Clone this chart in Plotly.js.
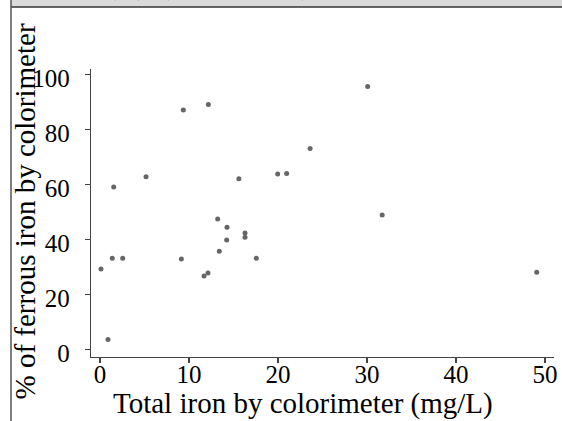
<!DOCTYPE html>
<html>
<head>
<meta charset="utf-8">
<script src="https://cdn.plot.ly/plotly-3.0.1.min.js"></script>
<style>html,body{margin:0;padding:0;background:#fff;}#chart{width:562px;height:421px;}</style>
</head>
<body>
<div id="chart"></div>
<script>
// Data
var totalIron = [0.11, 0.9, 1.38, 1.54, 2.55, 5.17, 9.14, 9.36, 11.69, 12.13, 12.17, 13.22, 13.4, 14.23, 14.27, 15.6, 16.29, 16.29, 17.56, 19.96, 20.97, 23.6, 30.07, 31.7, 49.06];
var ferrousPct = [29.2, 3.6, 33.1, 59.1, 33.1, 62.8, 32.9, 87.1, 26.7, 27.8, 89.1, 47.4, 35.7, 39.8, 44.4, 62.1, 42.3, 40.8, 33.1, 63.8, 64.0, 73.1, 95.6, 48.9, 28.0];
var xTicks = [0, 10, 20, 30, 40, 50];
var yTicks = [0, 20, 40, 60, 80, 100];
var xTitle = "Total iron by colorimeter (mg/L)";
var yTitle = "% of ferrous iron by colorimeter";
var stripText1 = "(%)";
var stripText2 = "(Total, pH 7.5)";

var W = 562, H = 421, L = 91, R = 8, T = 69, B = 64;
var pw = W - L - R, ph = H - T - B;
function px(x){ return (x - L) / pw; }
function py(y){ return (H - B - y) / ph; }

var FONT = "Liberation Serif, Times New Roman, serif";

var trace = {
  x: totalIron, y: ferrousPct, type: 'scatter', mode: 'markers',
  marker: {color: '#666666', size: 5},
  hoverinfo: 'skip', showlegend: false
};

var axisCommon = {
  showgrid: false, zeroline: false, showline: true, linecolor: '#444', linewidth: 1.2,
  ticks: 'outside', ticklen: 5, tickwidth: 1.2, tickcolor: '#444',
  tickfont: {family: FONT, size: 25, color: '#000'}, fixedrange: true
};

var layout = {
  width: W, height: H,
  margin: {l: L, r: R, t: T, b: B, pad: 0},
  paper_bgcolor: '#fff', plot_bgcolor: '#fff',
  xaxis: Object.assign({}, axisCommon, {range: [-1.01, 51.0], tickmode: 'array', tickvals: xTicks, ticktext: xTicks.map(String), ticklabelstandoff: -10}),
  yaxis: Object.assign({}, axisCommon, {range: [-2.8, 102], tickmode: 'array', tickvals: yTicks, ticktext: yTicks.map(String), ticklabelstandoff: 10, ticklabelshift: 4}),
  shapes: [
    {type: 'rect', xref: 'paper', yref: 'paper', x0: px(11), x1: px(566), y0: py(7), y1: py(-3), fillcolor: '#dadada', line: {width: 0}, layer: 'below'},
    {type: 'line', xref: 'paper', yref: 'paper', x0: px(11), x1: px(566), y0: py(7), y1: py(7), line: {color: '#333', width: 1.5}},
    {type: 'line', xref: 'paper', yref: 'paper', x0: px(11), x1: px(11), y0: py(-3), y1: py(425), line: {color: '#555', width: 1.5}}
  ],
  annotations: [
    {xref: 'paper', yref: 'paper', x: px(303), y: py(403.5), xanchor: 'center', yanchor: 'middle', showarrow: false,
     text: xTitle, font: {family: FONT, size: 29, color: '#000'}},
    {xref: 'paper', yref: 'paper', x: px(24.5), y: py(212), xanchor: 'center', yanchor: 'middle', showarrow: false, textangle: -90,
     text: yTitle, font: {family: FONT, size: 29, color: '#000'}},
    {xref: 'paper', yref: 'paper', x: px(106), y: py(-13), xanchor: 'left', yanchor: 'middle', showarrow: false,
     text: stripText1, font: {family: FONT, size: 25, color: '#000'}},
    {xref: 'paper', yref: 'paper', x: px(159), y: py(-13), xanchor: 'left', yanchor: 'middle', showarrow: false,
     text: stripText2, font: {family: FONT, size: 25, color: '#000'}}
  ]
};

Plotly.newPlot('chart', [trace], layout, {displayModeBar: false, staticPlot: true});
</script>
</body>
</html>
